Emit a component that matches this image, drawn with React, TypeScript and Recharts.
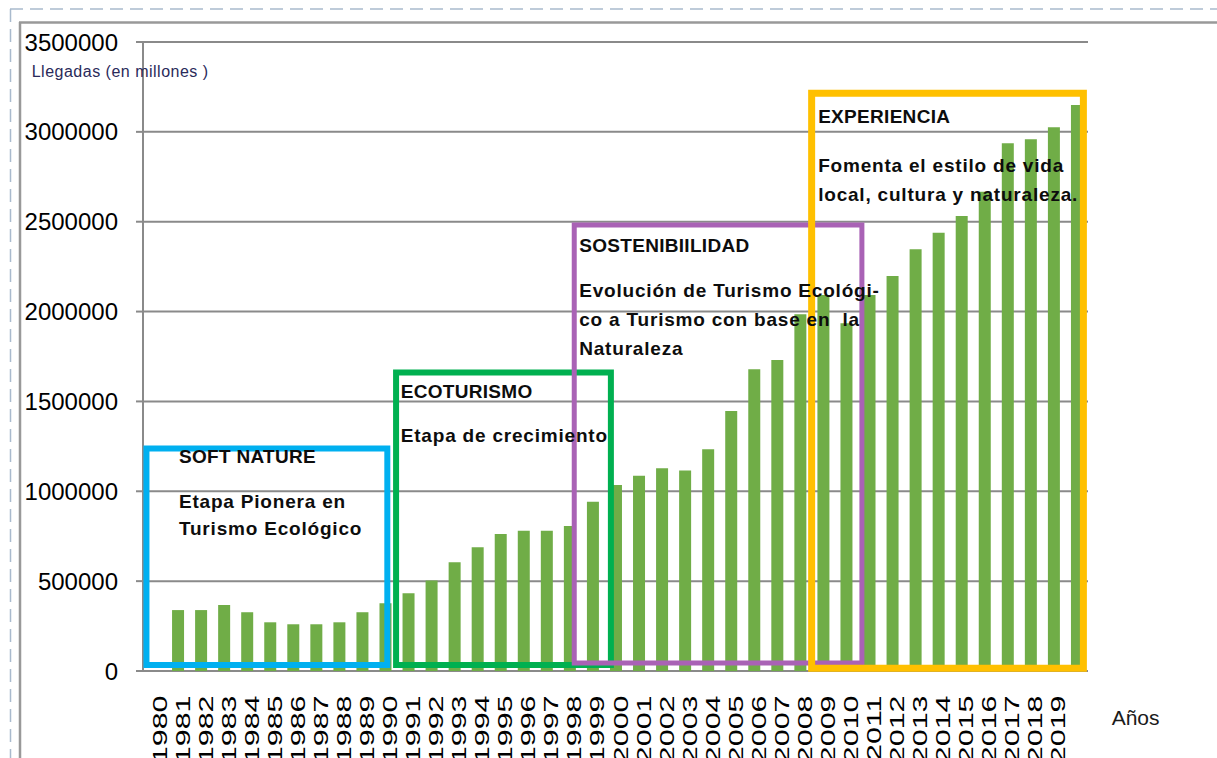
import React from 'react';
import { BarChart, Bar, XAxis, YAxis, CartesianGrid, ReferenceArea } from 'recharts';

const years = [
  '1980', '1981', '1982', '1983', '1984', '1985', '1986', '1987', '1988', '1989',
  '1990', '1991', '1992', '1993', '1994', '1995', '1996', '1997', '1998', '1999',
  '2000', '2001', '2002', '2003', '2004', '2005', '2006', '2007', '2008', '2009',
  '2010', '2011', '2012', '2013', '2014', '2015', '2016', '2017', '2018', '2019',
  '',
];

// llegadas por año (la primera categoría no tiene barra)
const arrivals = [
  null, 339000, 339000, 367000, 327000, 271000, 260000, 260000, 271000, 327000,
  377000, 432000, 503000, 605000, 688000, 762000, 781000, 781000, 807000, 942000,
  1035000, 1087000, 1128000, 1115000, 1234000, 1447000, 1679000, 1731000, 1985000, 2092000,
  1935000, 2092000, 2198000, 2347000, 2439000, 2532000, 2667000, 2936000, 2959000, 3025000,
  3150000,
];

const yTicks = [0, 500000, 1000000, 1500000, 2000000, 2500000, 3000000, 3500000];

// etapas: recuadros en unidades de categoría (x) y llegadas (y)
const stageNames = ['SOFT NATURE', 'ECOTURISMO', 'SOSTENIBIILIDAD', 'EXPERIENCIA'];
const stageText = [
  ['Etapa Pionera en', 'Turismo Ecológico'],
  ['Etapa de crecimiento'],
  ['Evolución de Turismo Ecológi-', 'co a Turismo con base en  la', 'Naturaleza'],
  ['Fomenta el estilo de vida', 'local, cultura y naturaleza.'],
];
const stageStart = [0.15, 10.98, 18.71, 29.01];
const stageEnd = [10.6, 20.3, 31.19, 40.8];
const stageTop = [1238000, 1661000, 2482000, 3215000];
const stageBottom = [33000, 33000, 45000, 15000];

const stageColors = ['#00B0F0', '#00B050', '#A962B5', '#FFC000'];
const stageStroke = [6, 6, 5, 7];
const stageLayout = [
  { dx: 32.5, title: 14.8, body: 59.8, lineH: 27 },
  { dx: 4.7, title: 25.5, body: 69.2, lineH: 29 },
  { dx: 5, title: 27, body: 71.7, lineH: 29 },
  { dx: 6.5, title: 29.7, body: 78.7, lineH: 29 },
];

const boundaryTicks = Array.from({ length: years.length + 1 }, (_, i) => i);

const FONT = 'Liberation Sans, Arial, sans-serif';
const GRAY = '#8a8a8a';

const data = years.map((year, i) => ({ year, value: arrivals[i] }));

const YearTick = ({ x, y, payload }: any) => (
  <g transform={`translate(${x + 12},${y + 24.5}) rotate(-90)`}>
    <text textAnchor="end" transform="scale(1.45,1)" fontSize={21} fontFamily={FONT} fill="#000">
      {payload.value}
    </text>
  </g>
);

const stageLabel = (i: number) => (props: any) => {
  const { x, y } = props.viewBox;
  const l = stageLayout[i];
  return (
    <g fontFamily={FONT} fontWeight="bold" fill="#0d0d0d">
      <text x={x + l.dx} y={y + l.title} fontSize={19} letterSpacing={0.3} style={{ whiteSpace: 'pre' }}>
        {stageNames[i]}
      </text>
      {stageText[i].map((line, k) => (
        <text
          key={k}
          x={x + l.dx}
          y={y + l.body + k * l.lineH}
          fontSize={19}
          letterSpacing={0.8}
          xmlSpace="preserve"
          style={{ whiteSpace: 'pre' }}
        >
          {line}
        </text>
      ))}
    </g>
  );
};

export default function App() {
  return (
    <div style={{ position: 'relative', width: 1217, height: 758, background: '#fff', overflow: 'hidden' }}>
      <style>{'body{margin:0}'}</style>
      <svg width={1217} height={758} style={{ position: 'absolute', left: 0, top: 0 }}>
        <line x1={10} y1={9} x2={1217} y2={9} stroke="#a9bacd" strokeWidth={1.5} strokeDasharray="13 7" />
        <line x1={10.5} y1={9} x2={10.5} y2={758} stroke="#a9bacd" strokeWidth={1.5} strokeDasharray="13 7" />
        <line x1={19} y1={22.5} x2={1217} y2={22.5} stroke="#999" strokeWidth={2.5} />
        <line x1={20} y1={22} x2={20} y2={758} stroke="#999" strokeWidth={2.5} />
      </svg>
      <div style={{ position: 'absolute', left: 0, top: 0 }}>
        <BarChart width={1217} height={758} data={data} margin={{ top: 42, right: 129, bottom: 0, left: 0 }}>
          <XAxis
            xAxisId="pos"
            type="number"
            dataKey="value"
            domain={[0, years.length]}
            ticks={boundaryTicks}
            tick={false}
            tickSize={8}
            height={0}
            allowDataOverflow
            axisLine={{ stroke: GRAY, strokeWidth: 2 }}
            tickLine={{ stroke: GRAY, strokeWidth: 2 }}
          />
          <XAxis
            xAxisId="cat"
            dataKey="year"
            interval={0}
            height={87}
            tickSize={0}
            tickMargin={0}
            axisLine={false}
            tickLine={false}
            tick={<YearTick />}
          />
          <YAxis
            domain={[0, 3500000]}
            ticks={yTicks}
            interval={0}
            width={143}
            tickSize={7}
            tickMargin={18}
            axisLine={{ stroke: GRAY, strokeWidth: 2 }}
            tickLine={{ stroke: GRAY, strokeWidth: 2 }}
            tick={{ fontSize: 24, fill: '#000', fontFamily: FONT }}
          />
          <CartesianGrid xAxisId="cat" vertical={false} stroke={GRAY} strokeWidth={2} />
          <Bar xAxisId="cat" dataKey="value" fill="#70AD47" barSize={12} isAnimationActive={false} />
          {stageNames.map((name, i) => (
            <ReferenceArea
              key={name}
              xAxisId="pos"
              x1={stageStart[i]}
              x2={stageEnd[i]}
              y1={stageBottom[i]}
              y2={stageTop[i]}
              fill="none"
              fillOpacity={0}
              stroke={stageColors[i]}
              strokeWidth={stageStroke[i]}
              ifOverflow="visible"
              zIndex={700 + i}
            />
          ))}
          {stageNames.map((name, i) => (
            <ReferenceArea
              key={name + '-text'}
              xAxisId="pos"
              x1={stageStart[i]}
              x2={stageEnd[i]}
              y1={stageBottom[i]}
              y2={stageTop[i]}
              fill="none"
              fillOpacity={0}
              stroke="none"
              ifOverflow="visible"
              zIndex={2500}
              label={stageLabel(i)}
            />
          ))}
        </BarChart>
      </div>
      <svg width={1217} height={758} style={{ position: 'absolute', left: 0, top: 0, pointerEvents: 'none' }}>
        <text x={31.7} y={77} fontSize={16} letterSpacing={0.5} fontFamily={FONT} fill="#2a2a5a">
          Llegadas (en millones )
        </text>
        <text x={1111.7} y={724.5} fontSize={21} fontFamily={FONT} fill="#1a1a1a">
          Años
        </text>
      </svg>
    </div>
  );
}
